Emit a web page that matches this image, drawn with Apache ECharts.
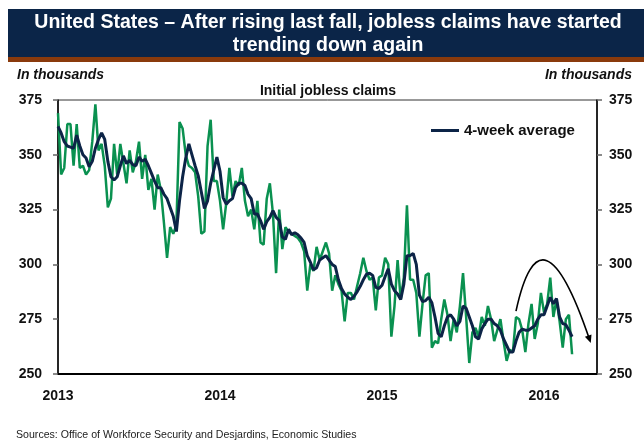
<!DOCTYPE html>
<html>
<head>
<meta charset="utf-8">
<script src="https://cdn.jsdelivr.net/npm/echarts@6/dist/echarts.min.js"></script>
<style>
html,body{margin:0;padding:0;background:#fff;}
#chart{width:644px;height:441px;}
</style>
</head>
<body>
<div id="chart"></div>
<script>
// ---- data ----
const firstWeek = '2013-01-05';       // week ending date of first observation
const axisWeeks = 174;                 // weekly slots on the x axis (data + empty space to the right)
const yearLabels = ['2013', '2014', '2015', '2016'];
const yTicks = [250, 275, 300, 325, 350, 375];

// Initial jobless claims (thousands), weekly
const initialClaims = [
  369, 341, 344, 364, 364, 345, 364, 344, 345, 341,
  343, 356, 373, 352, 355, 345, 326, 330, 355, 341,
  355, 346, 337, 352, 342, 347, 356, 339, 350, 334,
  339, 325, 341, 334, 319, 303, 317, 314, 318, 365,
  362, 350, 345, 344, 342, 331, 314, 315, 354, 366,
  338, 338, 329, 316, 328, 344, 331, 338, 336, 344,
  329, 322, 325, 316, 329, 310, 309, 330, 337, 323,
  296, 325, 307, 317, 315, 314, 313, 312, 310, 306,
  288, 300, 297, 308, 302, 306, 310, 305, 288, 295,
  291, 288, 274, 287, 287, 284, 290, 296, 303, 297,
  293, 294, 279, 294, 295, 303, 300, 267, 281, 302,
  284, 294, 327, 293, 293, 287, 267, 282, 295, 296,
  262, 265, 264, 275, 284, 277, 265, 275, 269, 281,
  296, 276, 255, 269, 271, 267, 276, 272, 281, 275,
  265, 270, 275, 265, 256, 261, 260, 276, 275, 270,
  260, 273, 282, 266, 273, 287, 278, 282, 294, 276,
  284, 274, 262, 275, 277, 259
];

// 4-week average (thousands), weekly
const fourWeekAverage = [
  363, 360, 356, 354, 353.5, 353, 359, 354, 350, 348.5,
  344.5, 347, 353, 357, 360, 357, 347, 340, 338.5, 340,
  345, 349.5, 346, 347.5, 345.5, 345, 349, 347, 348, 345,
  341.5, 338, 335, 335, 332, 330, 326, 322, 315, 329,
  340, 348.5, 355, 350, 345, 340.5, 333, 325.5, 329, 337,
  343, 349, 342.5, 330.5, 327.5, 329, 330, 335, 337, 337,
  336, 332, 330, 323, 323, 320, 316, 319.5, 321.5, 324.5,
  321.5, 320, 312.5, 311.5, 316, 313.5, 314.5, 313.5, 312, 310,
  304, 301, 297.5, 298.5, 302, 303, 304, 302, 300, 299,
  293, 289, 286.5, 285, 284, 285.5, 287.5, 290, 293, 295.5,
  296, 295, 289.5, 289, 290.5, 294.5, 298, 291, 288, 286.5,
  284, 291, 304, 304, 305, 300, 286, 283, 283.5, 285,
  282.5, 276, 268.5, 267, 272, 276, 277, 275, 272, 274,
  281, 280, 276, 272, 267, 266, 270.5, 273, 275, 275,
  273, 272, 270, 266, 263, 260, 260, 265, 269, 270.5,
  270, 270, 271, 272, 275, 277, 277, 281, 285, 282,
  284.5, 276, 273, 272.5, 270, 267
];

// annotation arrow: [week index, value] for start, top of the arc, end (arrow head)
const arrowPath = [[147.2, 278.7], [157.2, 301.2], [170.7, 264.1]];

// ---- build categories ----
const weeks = [];
(function () {
  const d0 = new Date(firstWeek + 'T00:00:00Z');
  for (let i = 0; i < axisWeeks; i++) {
    const d = new Date(d0.getTime() + i * 7 * 86400000);
    weeks.push(d.toISOString().slice(0, 10));
  }
})();
function isFirstWeekOfYear(v) {
  return v.slice(5, 7) === '01' && parseInt(v.slice(8, 10), 10) <= 7;
}

const FONT = "'Liberation Sans', Arial, sans-serif";
const NAVY = '#0c2447';
const GREEN = '#0a9150';

const chart = echarts.init(document.getElementById('chart'), null, { renderer: 'canvas' });

const option = {
  animation: false,
  backgroundColor: '#ffffff',
  textStyle: { fontFamily: FONT },
  grid: {
    left: 58, right: 47, top: 100, bottom: 67,
    show: true, borderColor: '#333', borderWidth: 1, backgroundColor: 'transparent'
  },
  legend: {
    data: ['4-week average'],
    left: 426, top: 118,
    icon: 'rect', itemWidth: 28, itemHeight: 3,
    textStyle: { fontFamily: FONT, fontWeight: 'bold', fontSize: 15, color: '#111' }
  },
  xAxis: {
    type: 'category',
    data: weeks,
    boundaryGap: false,
    axisLine: { lineStyle: { color: '#000', width: 2 } },
    axisTick: { show: false },
    axisLabel: {
      interval: function (idx, v) { return isFirstWeekOfYear(v); },
      formatter: function (v) {
        const y = v.slice(0, 4);
        return yearLabels.indexOf(y) >= 0 ? y : '';
      },
      margin: 15,
      fontFamily: FONT, fontWeight: 'bold', fontSize: 14, color: '#111'
    },
    splitLine: { show: false }
  },
  yAxis: [
    {
      type: 'value', position: 'left',
      min: yTicks[0], max: yTicks[yTicks.length - 1], interval: 25,
      axisLine: { show: true, lineStyle: { color: '#000', width: 1.5 } },
      axisTick: { show: true, length: 5, lineStyle: { color: '#666', width: 1.5 } },
      axisLabel: { margin: 16, fontFamily: FONT, fontWeight: 'bold', fontSize: 14, color: '#111' },
      splitLine: { show: false }
    },
    {
      type: 'value', position: 'right',
      min: yTicks[0], max: yTicks[yTicks.length - 1], interval: 25,
      axisLine: { show: true, lineStyle: { color: '#000', width: 1.5 } },
      axisTick: { show: true, length: 5, lineStyle: { color: '#666', width: 1.5 } },
      axisLabel: { margin: 12, fontFamily: FONT, fontWeight: 'bold', fontSize: 14, color: '#111' },
      splitLine: { show: false }
    }
  ],
  series: [
    {
      name: 'Initial jobless claims', type: 'line', data: initialClaims,
      showSymbol: false, symbol: 'none',
      lineStyle: { color: GREEN, width: 2.5 }, itemStyle: { color: GREEN },
      z: 2
    },
    {
      name: '4-week average', type: 'line', data: fourWeekAverage,
      showSymbol: false, symbol: 'none',
      lineStyle: { color: NAVY, width: 3 }, itemStyle: { color: NAVY },
      z: 3
    }
  ],
  graphic: [
    { type: 'rect', shape: { x: 8, y: 9, width: 636, height: 48 }, style: { fill: '#0b2548' }, silent: true },
    { type: 'rect', shape: { x: 8, y: 57, width: 636, height: 5 }, style: { fill: '#8a3a0c' }, silent: true },
    { type: 'text', x: 328, y: 23, style: {
        text: 'United States \u2013 After rising last fall, jobless claims have started',
        fill: '#fff', font: "bold 19.5px " + FONT, textAlign: 'center', textVerticalAlign: 'middle' } },
    { type: 'text', x: 328, y: 46, style: {
        text: 'trending down again',
        fill: '#fff', font: "bold 19.5px " + FONT, textAlign: 'center', textVerticalAlign: 'middle' } },
    { type: 'text', x: 17, y: 75, style: {
        text: 'In thousands', fill: '#111', font: "italic bold 14px " + FONT, textVerticalAlign: 'middle' } },
    { type: 'text', x: 632, y: 75, style: {
        text: 'In thousands', fill: '#111', font: "italic bold 14px " + FONT, textAlign: 'right', textVerticalAlign: 'middle' } },
    { type: 'text', x: 328, y: 91, style: {
        text: 'Initial jobless claims', fill: '#111', font: "bold 14px " + FONT, textAlign: 'center', textVerticalAlign: 'middle' } },
    { type: 'text', x: 16, y: 435, style: {
        text: 'Sources: Office of Workforce Security and Desjardins, Economic Studies',
        fill: '#222', font: "10.6px " + FONT, textVerticalAlign: 'middle' } }
  ]
};
chart.setOption(option);

// arrow annotation, positioned in data coordinates
(function () {
  const p = arrowPath.map(function (d) {
    return chart.convertToPixel({ xAxisIndex: 0, yAxisIndex: 0 }, d);
  });
  const P0 = p[0], A = p[1], P2 = p[2];
  const C = [2 * A[0] - (P0[0] + P2[0]) / 2, 2 * A[1] - (P0[1] + P2[1]) / 2];
  const dx = P2[0] - C[0], dy = P2[1] - C[1];
  const len = Math.sqrt(dx * dx + dy * dy);
  const ux = dx / len, uy = dy / len;
  const hl = 8, hw = 3.5;
  const base = [P2[0] - ux * hl, P2[1] - uy * hl];
  const head = [
    [P2[0], P2[1]],
    [base[0] - uy * hw, base[1] + ux * hw],
    [base[0] + uy * hw, base[1] - ux * hw]
  ];
  const lineEnd = [P2[0] - ux * hl * 0.6, P2[1] - uy * hl * 0.6];
  const g = option.graphic.slice();
  g.push({ type: 'bezierCurve', shape: { x1: P0[0], y1: P0[1], x2: lineEnd[0], y2: lineEnd[1], cpx1: C[0], cpy1: C[1] },
    style: { stroke: '#000', lineWidth: 1.6, fill: null }, z: 10 });
  g.push({ type: 'polygon', shape: { points: head }, style: { fill: '#000' }, z: 10 });
  chart.setOption({ graphic: g }, { replaceMerge: ['graphic'] });
})();
</script>
</body>
</html>
